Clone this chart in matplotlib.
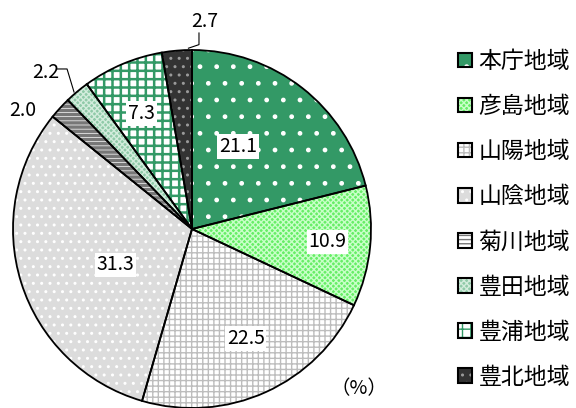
import numpy as np
import matplotlib
matplotlib.use("Agg")
import matplotlib.pyplot as plt
from matplotlib.patches import Rectangle
from matplotlib.legend_handler import HandlerTuple

plt.rcParams['font.family'] = ['Noto Sans CJK JP', 'DejaVu Sans']
plt.rcParams['hatch.linewidth'] = 1.0

# 地域別構成比 (%)
regions = ['本庁地域', '彦島地域', '山陽地域', '山陰地域', '菊川地域', '豊田地域', '豊浦地域', '豊北地域']
shares = [21.1, 10.9, 22.5, 31.3, 2.0, 2.2, 7.3, 2.7]
labels = ['21.1', '10.9', '22.5', '31.3', '2.0', '2.2', '7.3', '2.7']

# fill, hatch, hatch colour, hatch width for each region
fills = ['#339966', '#66ee66', '#ffffff', '#dcdcdc', '#ffffff', '#8fcaa8', '#ffffff', '#333333']
hatches = ['.', 'xxxxxx', '+++', '..', '----', 'xxxxxx', '++', '..']
hcols = ['#ffffff', '#c8ffc8', '#bdbdbd', '#ffffff', '#777777', '#d2ecdc', '#339966', '#9a9a9a']
hwidth = [1.0, 1.0, 1.0, 1.0, 2.5, 1.0, 1.8, 1.0]

# label positions (pie radius = 1)
lab_xy = [(0.256, 0.461), (0.756, -0.072), (0.30, -0.611), (-0.428, -0.20),
          (-0.944, 0.661), (-0.817, 0.872), (-0.283, 0.644), (0.072, 1.161)]
inside = [True, True, True, True, False, False, True, False]

fig = plt.figure(figsize=(5.76, 4.08), dpi=100)
ax = fig.add_axes([0, 0, 1, 1])


def style(p, fc, h, hc, lw):
    p.set_facecolor(fc)
    p.set_hatch(h)
    p.set_edgecolor(hc)
    if hasattr(p, 'set_hatch_linewidth'):
        p.set_hatch_linewidth(lw)


wedges, _ = ax.pie(shares, startangle=90, counterclock=False, radius=1,
                   wedgeprops=dict(linewidth=0))
for w, fc, h, hc, lw in zip(wedges, fills, hatches, hcols, hwidth):
    style(w, fc, h, hc, lw)
outline, _ = ax.pie(shares, startangle=90, counterclock=False, radius=1,
                    wedgeprops=dict(fill=False, edgecolor='black', linewidth=1.3))

for (x, y), t, ins in zip(lab_xy, labels, inside):
    if ins:
        ax.text(x, y, t, ha='center', va='center', fontsize=14,
                bbox=dict(facecolor='white', edgecolor='none', pad=1.2))
    else:
        ax.text(x, y, t, ha='center', va='center', fontsize=14)

# leader lines for 2.7 and 2.2
ax.plot([0.039, 0.039, -0.02], [1.095, 1.03, 1.01], color='black', lw=0.8)
ax.plot([-0.754, -0.698, -0.659], [0.894, 0.894, 0.765], color='black', lw=0.8)

ax.text(0.933, -0.894, '（%）', ha='center', va='center', fontsize=14)

ax.set_xlim(-192 / 179, 384 / 179)
ax.set_ylim(-179 / 179, 229 / 179)
ax.set_axis_off()

handles = []
for fc, h, hc, lw in zip(fills, hatches, hcols, hwidth):
    p1 = Rectangle((0, 0), 1, 1, linewidth=0)
    style(p1, fc, h, hc, lw)
    p2 = Rectangle((0, 0), 1, 1, fill=False, edgecolor='black', linewidth=1.5)
    handles.append((p1, p2))
fig.legend(handles, regions, handler_map={tuple: HandlerTuple(ndivide=1, pad=0)},
           loc='upper left', bbox_to_anchor=(458 / 576, 1 - 50 / 408),
           frameon=False, fontsize=16.5, handlelength=0.6, handleheight=0.6,
           handletextpad=0.3, labelspacing=0.965, borderpad=0, borderaxespad=0)

fig.savefig('out.png', dpi=100)
